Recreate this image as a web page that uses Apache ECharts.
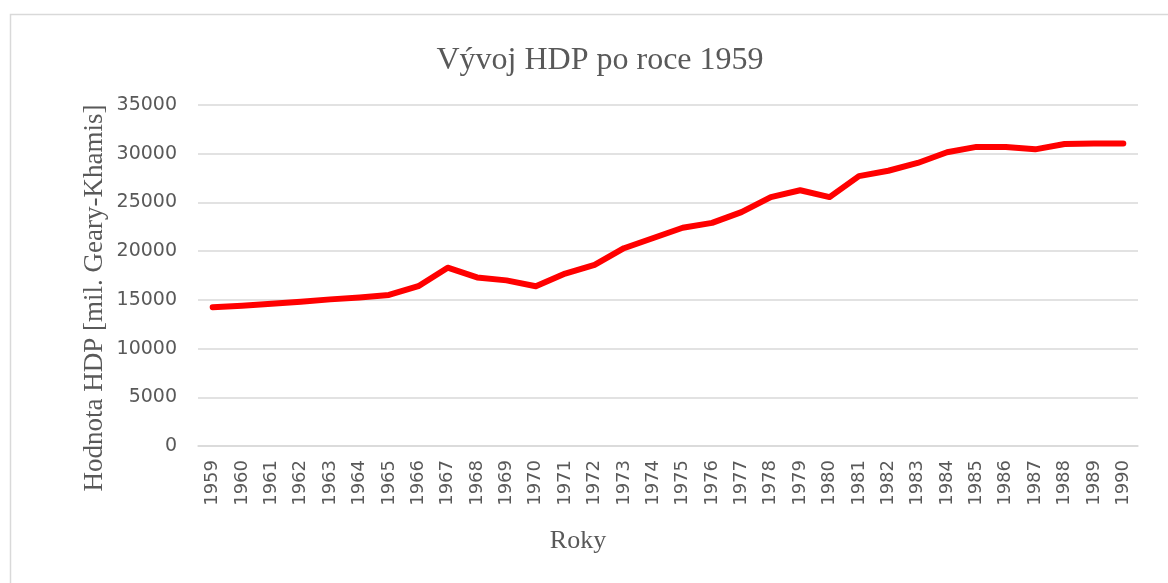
<!DOCTYPE html>
<html>
<head>
<meta charset="utf-8">
<title>Vývoj HDP po roce 1959</title>
<script src="https://cdn.jsdelivr.net/npm/echarts@6/dist/echarts.min.js"></script>
<style>
  html, body { margin: 0; padding: 0; background: #fff; }
  #chart { width: 1168px; height: 583px; }
</style>
</head>
<body>
<div id="chart"></div>
<script>
// roky a hodnoty HDP
var years = ['1959','1960','1961','1962','1963','1964','1965','1966','1967','1968','1969',
  '1970','1971','1972','1973','1974','1975','1976','1977','1978','1979','1980',
  '1981','1982','1983','1984','1985','1986','1987','1988','1989','1990'];
var hdp = [14250, 14400, 14600, 14800, 15050, 15250, 15500, 16400, 18300, 17300, 17000,
  16400, 17700, 18600, 20300, 21350, 22400, 22900, 24000, 25550, 26250, 25550,
  27700, 28250, 29050, 30150, 30700, 30700, 30450, 31000, 31050, 31050];
var yTicks = [0, 5000, 10000, 15000, 20000, 25000, 30000, 35000];

var textColor = '#595959';
var gridColor = '#d9d9d9';

var myChart = echarts.init(document.getElementById('chart'));
var option = {
    animation: false,
    backgroundColor: '#fff',
    title: {
        text: 'Vývoj HDP po roce 1959',
        left: 595,
        textAlign: 'center',
        top: 40,
        textStyle: {
            fontFamily: 'Liberation Serif',
            fontWeight: 'normal',
            fontSize: 32,
            color: textColor
        }
    },
    graphic: [{
        type: 'rect',
        shape: { x: 10.5, y: 14.5, width: 1300, height: 700 },
        style: { fill: 'none', stroke: gridColor, lineWidth: 1.5 },
        silent: true
    }, {
        // popisek osy x
        type: 'text',
        x: 578,
        y: 528,
        style: {
            text: 'Roky',
            align: 'center',
            fontFamily: 'Liberation Serif',
            fontSize: 26,
            fill: textColor
        }
    }, {
        // popisek osy y
        type: 'text',
        x: 95,
        y: 298,
        rotation: Math.PI / 2,
        style: {
            text: 'Hodnota HDP [mil. Geary-Khamis]',
            align: 'center',
            verticalAlign: 'middle',
            fontFamily: 'Liberation Serif',
            fontSize: 27,
            fill: textColor
        }
    }],
    grid: {
        left: 198,
        right: 30,
        top: 105,
        bottom: 137
    },
    xAxis: {
        type: 'category',
        data: years,
        boundaryGap: true,
        axisLine: { lineStyle: { color: gridColor, width: 1.5 } },
        axisTick: { show: false },
        axisLabel: {
            rotate: 90,
            interval: 0,
            margin: 14,
            fontFamily: 'DejaVu Sans',
            fontSize: 18,
            color: textColor
        }
    },
    yAxis: {
        type: 'value',
        min: yTicks[0],
        max: yTicks[yTicks.length - 1],
        interval: 5000,
        axisLine: { show: false },
        axisTick: { show: false },
        splitLine: { lineStyle: { color: gridColor, width: 1.5 } },
        axisLabel: {
            margin: 21,
            fontFamily: 'DejaVu Sans',
            fontSize: 19,
            color: textColor,
            formatter: function (v) { return String(v); }
        }
    },
    series: [{
        name: 'HDP',
        type: 'line',
        data: hdp,
        symbol: 'none',
        lineStyle: { color: '#ff0000', width: 6, cap: 'round', join: 'round' }
    }]
};
myChart.setOption(option);
</script>
</body>
</html>
